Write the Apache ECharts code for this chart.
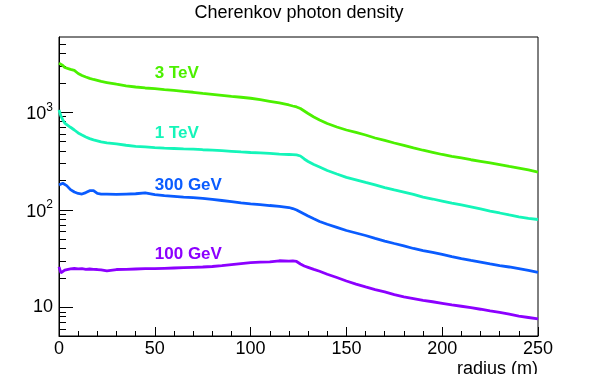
<!DOCTYPE html>
<html>
<head>
<meta charset="utf-8">
<script src="https://cdn.jsdelivr.net/npm/echarts@6/dist/echarts.min.js"></script>
<style>html,body{margin:0;padding:0;background:#fff}#c{width:598px;height:374px}</style>
</head>
<body>
<div id="c"></div>
<script>
var radius = [0,1,2,3,4,6,8,10,12,14,16,18,20,22,25,30,35,40,45,50,55,60,65,70,75,80,85,90,95,100,105,110,115,120,122,124,126,128,130,133,136,140,145,150,155,160,165,170,175,180,185,190,195,200,205,210,215,220,225,230,235,240,245,250];

var tev3 = [3190,3130,3020,2880,2810,2750,2685,2500,2385,2300,2230,2170,2120,2070,2020,1940,1870,1816,1775,1746,1706,1675,1635,1604,1566,1530,1494,1459,1426,1393,1347,1297,1246,1188,1160,1134,1094,1031,972,895,834,767,706,658,621,585,545,514,484,457,431,408,389,369,354,340,326,314,302,290,278,267,256,244];

var tev1 = [1056,916,834,776,741,702,658,614,585,558,537,522,510,498,486,473,459,448,441,434,429,425,421,418,413,410,404,398,392,387,383,378,373,369,367,365,356,332,313,291,275,253,233,215,203,191,180,169,160,152,144,135,129,123,117,112,107,102,97,92.7,88.5,84.8,81.8,79.5];

var gev300 = [180,182,187,187,177,161,152,147,145,150,157,157,147,145,145,144,145,146,149,143,140,137.5,135,133,131,128,124.5,121,117.5,114.7,112.8,110.6,108.6,105.5,103,99.5,94.9,90.5,86.3,80.9,75.9,71,66.1,61.3,57.8,54.5,51,47.8,45.1,42.6,40.1,38.2,36.5,34.8,33,31.5,30.2,29,27.8,26.7,25.9,24.9,23.9,22.8];

var gev100 = [26,22.5,23.5,24,24.5,24.8,25,24.8,24.9,24.5,24.7,24.5,24.4,24.2,23.6,24.4,24.5,24.7,24.9,24.9,25.1,25.3,25.5,25.7,25.9,26.2,26.7,27.4,28.1,28.7,29,29.2,30,29.8,30,29.5,27.8,26.5,25.7,24.5,23.4,21.8,20.2,18.6,17.3,16.2,15.2,14.4,13.5,12.8,12.3,11.8,11.4,11.0,10.6,10.25,9.9,9.55,9.17,8.85,8.5,8.14,7.86,7.59];

var seriesNames = ['3 TeV','1 TeV','300 GeV','100 GeV'];
var seriesColors = ['#4cf000','#14f5b9','#0a5cff','#8c00ff'];
var labelR = [50,50,50,50];
var labelV = [2500,603,177.5,34.7];

var xTicks = [0,50,100,150,200,250];
var yMajor = [10,100,1000];
var yMinor = [6,7,8,9,20,30,40,50,60,70,80,90,200,300,400,500,600,700,800,900,2000,3000,4000,5000];

var FONT = 'Liberation Sans, Arial, Helvetica, sans-serif';
var allData = [tev3, tev1, gev300, gev100];

var series = allData.map(function(vals, i){
  return {
    type: 'line',
    name: seriesNames[i],
    data: radius.map(function(r, j){ return [r, vals[j]]; }),
    showSymbol: false,
    symbol: 'none',
    lineStyle: { color: seriesColors[i], width: 2.8 },
    itemStyle: { color: seriesColors[i] },
    z: 3,
    markPoint: {
      symbol: 'circle', symbolSize: 0,
      silent: true,
      data: [{ coord: [labelR[i], labelV[i]], name: seriesNames[i] }],
      label: {
        show: true, position: 'right', distance: 0,
        formatter: seriesNames[i],
        color: seriesColors[i], fontSize: 17, fontWeight: 'bold', fontFamily: FONT
      }
    }
  };
});

var chart = echarts.init(document.getElementById('c'), null, {renderer: 'canvas'});
chart.setOption({
  animation: false,
  backgroundColor: '#fff',
  title: {
    text: 'Cherenkov photon density',
    left: 'center', top: 4, padding: 0,
    textStyle: { fontSize: 18, fontWeight: 'normal', color: '#000', fontFamily: FONT }
  },
  grid: { left: 59, right: 60, top: 37, bottom: 38, outerBoundsMode: 'none', containLabel: false,
    show: true, borderColor: '#000', borderWidth: 1, backgroundColor: 'transparent' },
  xAxis: {
    type: 'value', min: 0, max: 250, interval: 50,
    name: 'radius (m)', nameLocation: 'end', nameGap: 0,
    nameTextStyle: { fontSize: 18, color: '#000', fontFamily: FONT, align: 'right', verticalAlign: 'top', padding: [24, 0, 0, 0] },
    axisLine: { show: true, onZero: false, lineStyle: { color: '#000', width: 1 } },
    axisTick: { show: true, inside: true, length: 9, lineStyle: { color: '#000' } },
    minorTick: { show: true, splitNumber: 5, length: 5, lineStyle: { color: '#000' } },
    axisLabel: { margin: 4, fontSize: 18, color: '#000', fontFamily: FONT,
      customValues: xTicks },
    splitLine: { show: false }
  },
  yAxis: [{
    type: 'log', logBase: 10, min: 5.077, max: 5916,
    axisLine: { show: true, lineStyle: { color: '#000', width: 1 } },
    axisTick: { show: true, inside: true, length: 14, lineStyle: { color: '#000' }, customValues: yMajor },
    axisLabel: {
      margin: 6, color: '#000', customValues: yMajor,
      formatter: function(v){
        var e = Math.round(Math.log(v) / Math.LN10);
        return e === 1 ? '{b|10}' : '{b|10}{s|' + e + '}';
      },
      rich: {
        b: { fontSize: 18, color: '#000', fontFamily: FONT, verticalAlign: 'bottom' },
        s: { fontSize: 12, color: '#000', fontFamily: FONT, verticalAlign: 'top', padding: [0, 0, 10, 0] }
      }
    },
    splitLine: { show: false }
  }, {
    type: 'log', logBase: 10, min: 5.077, max: 5916, position: 'left',
    axisLine: { show: false },
    axisTick: { show: true, inside: true, length: 7, lineStyle: { color: '#000' }, customValues: yMinor },
    axisLabel: { show: false },
    splitLine: { show: false }
  }],
  series: series
});
</script>
</body>
</html>
